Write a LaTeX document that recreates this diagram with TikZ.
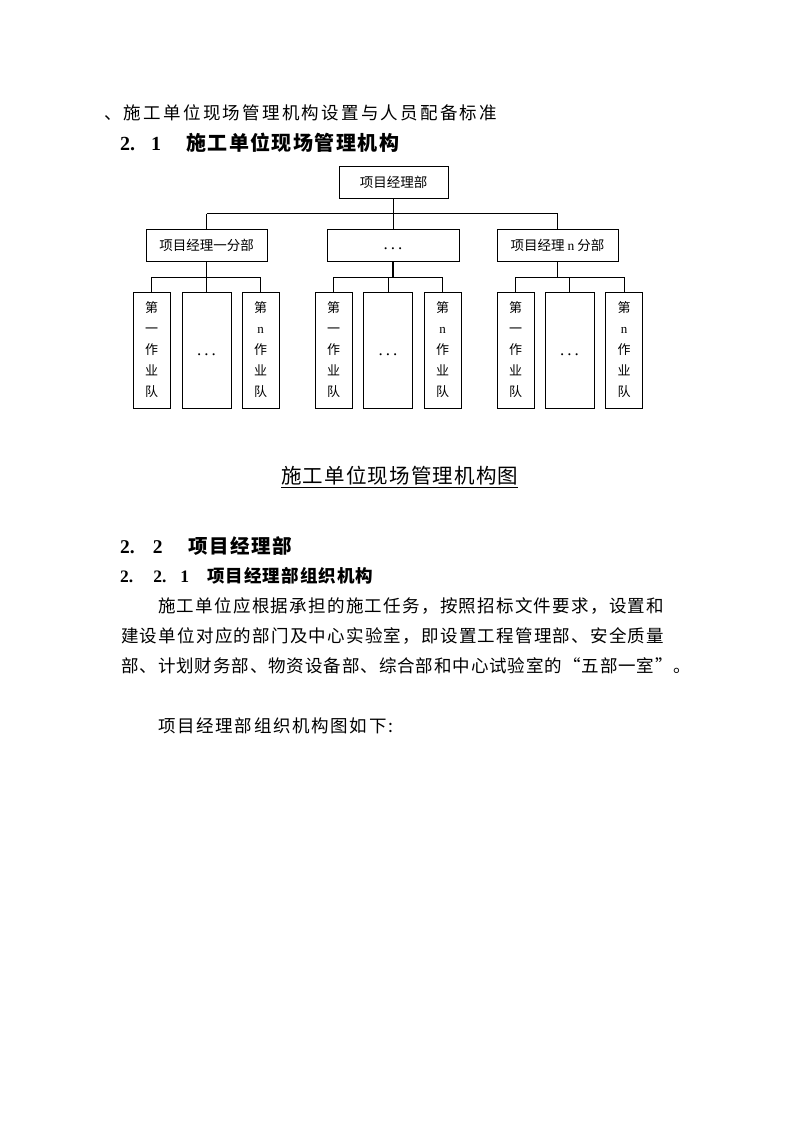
\documentclass[tikz,border=0pt]{standalone}
\usepackage{fontspec}
\setmainfont{Liberation Serif}
\newfontfamily\cjk{Noto Sans CJK SC}

% glue between CJK characters, only switched on inside \spread
\newXeTeXintercharclass\cjkclass
\newcount\cjkc
\cjkc="4E00
\loop \XeTeXcharclass\cjkc=\cjkclass \advance\cjkc by 1 \ifnum\cjkc<"A000 \repeat
\XeTeXcharclass"3001=\cjkclass
\XeTeXcharclass"3002=\cjkclass
\XeTeXcharclass"FF0C=\cjkclass
\XeTeXcharclass"201C=\cjkclass
\XeTeXcharclass"201D=\cjkclass
\XeTeXcharclass"003A=\cjkclass
\newcommand\cjkgap{\hskip 0pt plus 1fil\relax}
\XeTeXinterchartoks\cjkclass\cjkclass = {\cjkgap}
\newcommand\spread[2]{\hbox to #1{\XeTeXinterchartokenstate=1 #2}}
\newcommand\tdots{\rmfamily\fontsize{17}{17}\selectfont.\hskip 3pt.\hskip 3pt.}

\tikzset{
  txt/.style={anchor=west, inner sep=0pt},
  unitbox/.style={draw, line width=0.8pt, inner sep=0pt, minimum height=32pt,
    font=\fontsize{13.5}{15}\selectfont\cjk},
  teambox/.style={draw, line width=0.8pt, inner sep=0pt, minimum height=116pt,
    align=center, font=\fontsize{13}{21}\selectfont\cjk},
  bus/.style={line width=0.7pt},
  trunk/.style={line width=1.3pt}
}

\begin{document}
\begin{tikzpicture}[x=1pt,y=-1pt]
\useasboundingbox[fill=white] (0,0) rectangle (800,1132);

% headings
\node[txt] (head0) at (104,113) {\fontsize{17.5}{20}\selectfont\cjk\spread{393pt}{、施工单位现场管理机构设置与人员配备标准}};
\node[txt] (head21) at (120,143) {\fontsize{20}{24}\selectfont\bfseries\makebox[66pt][l]{2.\hskip 16pt 1}\cjk\spread{213pt}{施工单位现场管理机构}};

% chart
\node[unitbox, minimum width=109pt] (top) at (393.5,182) {项目经理部};
\node[unitbox, minimum width=121pt] (sub1) at (206.5,245) {项目经理一分部};
\node[unitbox, minimum width=132pt] (subm) at (393,245) {\raisebox{-4pt}[0pt][0pt]{\tdots}};
\node[unitbox, minimum width=121pt] (subn) at (557.5,245) {项目经理 {\rmfamily n} 分部};

\coordinate (busA) at (0,213.5);
\coordinate (busB) at (0,277);
\draw[trunk] (top.south) -- (top.south |- busA);
\draw[bus] (sub1.north |- busA) -- (subn.north |- busA);
\foreach \s in {sub1,subm,subn}
  \draw[bus] (\s.north) -- (\s.north |- busA);

\foreach \g/\p/\xa/\xb/\xc in {1/sub1/151.5/206.5/260.5, 2/subm/333.7/388/442.5, 3/subn/515.5/569.5/624} {
  \node[teambox, minimum width=37pt] (team\g a) at (\xa,350) {第\\一\\作\\业\\队};
  \node[teambox, minimum width=49pt] (team\g b) at (\xb,350) {\raisebox{-5pt}[0pt][0pt]{\tdots}};
  \node[teambox, minimum width=37pt] (team\g c) at (\xc,350) {第\\{\rmfamily n}\\作\\业\\队};
  \draw[trunk] (\p.south) -- (\p.south |- busB);
  \draw[bus] (team\g a.north |- busB) -- (team\g c.north |- busB);
  \foreach \t in {a,b,c}
    \draw[bus] (team\g\t.north) -- (team\g\t.north |- busB);
}

% caption
\node[txt] (cap) at (281,476) {\fontsize{20.5}{24}\selectfont\cjk\spread{237pt}{施工单位现场管理机构图}};
\draw[line width=1.1pt] ([yshift=-1.5pt]cap.south west) -- ([yshift=-1.5pt]cap.south east);

% section 2.2
\node[txt] (head22) at (120,546) {\fontsize{19.5}{24}\selectfont\bfseries\makebox[68pt][l]{2.\hskip 18pt 2}\cjk\spread{104pt}{项目经理部}};
\node[txt] (head221) at (120,576) {\fontsize{17.5}{22}\selectfont\bfseries\makebox[87pt][l]{2.\hskip 20pt 2.\hskip 14pt 1}\cjk\spread{166pt}{项目经理部组织机构}};

\node[txt] (par1) at (158,606) {\fontsize{17.5}{20}\selectfont\cjk\spread{506pt}{施工单位应根据承担的施工任务，按照招标文件要求，设置和}};
\node[txt] (par2) at (121,636) {\fontsize{17.5}{20}\selectfont\cjk\spread{543pt}{建设单位对应的部门及中心实验室，即设置工程管理部、安全质量}};
\node[txt] (par3) at (121,666) {\fontsize{17.5}{20}\selectfont\cjk\spread{570pt}{部、计划财务部、物资设备部、综合部和中心试验室的“五部一室”。}};

\node[txt] (par4) at (158,726) {\fontsize{17.5}{20}\selectfont\cjk\spread{235pt}{项目经理部组织机构图如下:}};
\end{tikzpicture}
\end{document}
